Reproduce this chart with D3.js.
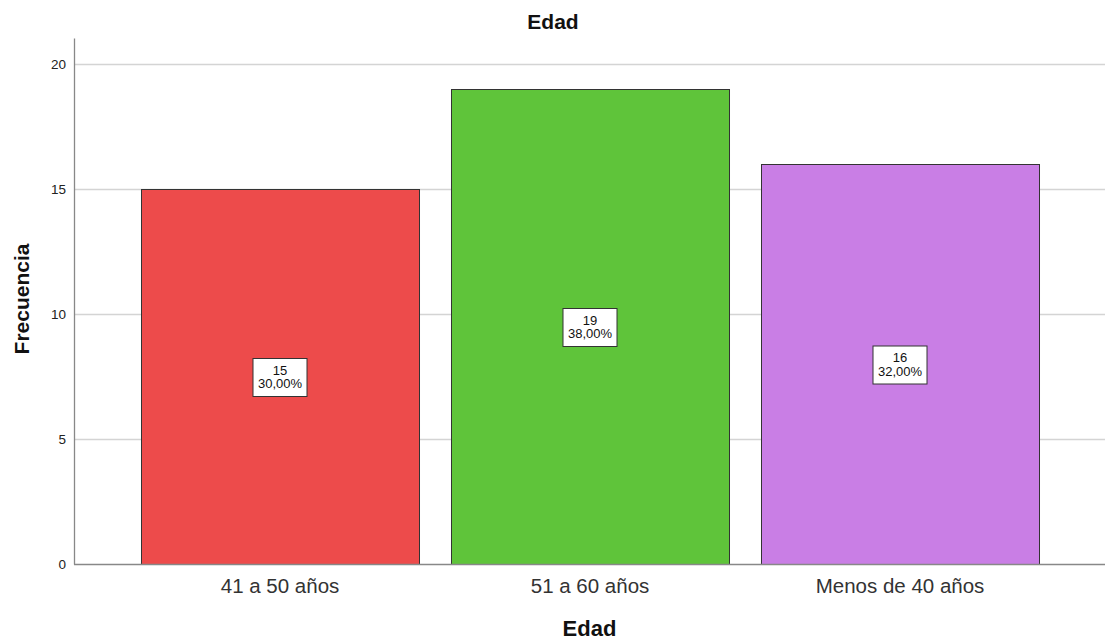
<!DOCTYPE html>
<html>
<head>
<meta charset="utf-8">
<script src="https://cdn.jsdelivr.net/npm/d3@7"></script>
<style>
  body { margin: 0; background: #fff; }
  text { font-family: Arial, "Liberation Sans", sans-serif; }
</style>
</head>
<body>
<div id="chart"></div>
<script>
// data
const categories = ["41 a 50 años", "51 a 60 años", "Menos de 40 años"];
const counts = [15, 19, 16];
const percents = ["30,00%", "38,00%", "32,00%"];
const colors = ["#ED4B4B", "#5FC43A", "#C97EE5"];
const yTicks = [0, 5, 10, 15, 20];

const width = 1110, height = 644;
const mLeft = 74, mRight = 1105, mTop = 38, mBottom = 564;
const fontStack = "Arial, 'Liberation Sans', sans-serif";

const svg = d3.select("#chart").append("svg")
  .attr("width", width)
  .attr("height", height);

const y = d3.scaleLinear()
  .domain([0, 21.04])
  .range([mBottom, mTop]);

const x = d3.scaleBand()
  .domain(categories)
  .range([125, 1055])
  .paddingInner(0.1032)
  .paddingOuter(0.0516);

// gridlines
svg.append("g")
  .selectAll("line")
  .data(yTicks.filter(d => d > 0))
  .join("line")
  .attr("x1", mLeft).attr("x2", mRight)
  .attr("y1", d => y(d) + 0.5).attr("y2", d => y(d) + 0.5)
  .attr("stroke", "#d4d4d4")
  .attr("stroke-width", 1.3);

// bars
svg.append("g")
  .selectAll("rect")
  .data(categories)
  .join("rect")
  .attr("x", d => x(d) + 0.5)
  .attr("y", (d, i) => y(counts[i]) + 0.5)
  .attr("width", x.bandwidth())
  .attr("height", (d, i) => y(0) - y(counts[i]))
  .attr("fill", (d, i) => colors[i])
  .attr("stroke", "#333")
  .attr("stroke-width", 1);

// y axis
const yAxis = svg.append("g")
  .attr("transform", `translate(${mLeft},0)`)
  .call(d3.axisLeft(y).tickValues(yTicks).tickSize(0).tickPadding(8));
yAxis.select(".domain").attr("stroke", "#888").attr("stroke-width", 1.3);
yAxis.selectAll("text").attr("font-size", 13.5).attr("fill", "#222")
  .attr("font-family", fontStack);

// x axis
const xAxis = svg.append("g")
  .attr("transform", `translate(0,${mBottom})`)
  .call(d3.axisBottom(x).tickSize(0).tickPadding(0));
xAxis.select(".domain").remove();
xAxis.selectAll("text")
  .attr("y", 29).attr("dy", null)
  .attr("font-size", 20.5).attr("fill", "#333")
  .attr("font-family", fontStack);
svg.append("line")
  .attr("x1", mLeft).attr("x2", mRight)
  .attr("y1", mBottom + 0.5).attr("y2", mBottom + 0.5)
  .attr("stroke", "#888").attr("stroke-width", 1.3);

// value labels
const lab = svg.append("g")
  .selectAll("g")
  .data(categories)
  .join("g")
  .attr("transform", (d, i) => `translate(${x(d) + x.bandwidth() / 2},${y(counts[i] / 2)})`);

lab.append("rect")
  .attr("x", -27).attr("y", -18)
  .attr("width", 54).attr("height", 38)
  .attr("fill", "#fff")
  .attr("stroke", "#333")
  .attr("stroke-width", 1);

lab.append("text")
  .attr("text-anchor", "middle")
  .attr("y", -2)
  .attr("font-size", 13)
  .attr("fill", "#111")
  .text((d, i) => counts[i]);

lab.append("text")
  .attr("text-anchor", "middle")
  .attr("y", 11.5)
  .attr("font-size", 13)
  .attr("fill", "#111")
  .text((d, i) => percents[i]);

// titles
svg.append("text")
  .attr("x", 553).attr("y", 29)
  .attr("text-anchor", "middle")
  .attr("font-size", 21).attr("font-weight", "bold")
  .attr("fill", "#111")
  .text("Edad");

svg.append("text")
  .attr("x", (mLeft + mRight) / 2).attr("y", 636)
  .attr("text-anchor", "middle")
  .attr("font-size", 22).attr("font-weight", "bold")
  .attr("fill", "#111")
  .text("Edad");

svg.append("text")
  .attr("transform", `translate(29,299) rotate(-90)`)
  .attr("text-anchor", "middle")
  .attr("font-size", 21).attr("font-weight", "bold")
  .attr("fill", "#111")
  .text("Frecuencia");
</script>
</body>
</html>
